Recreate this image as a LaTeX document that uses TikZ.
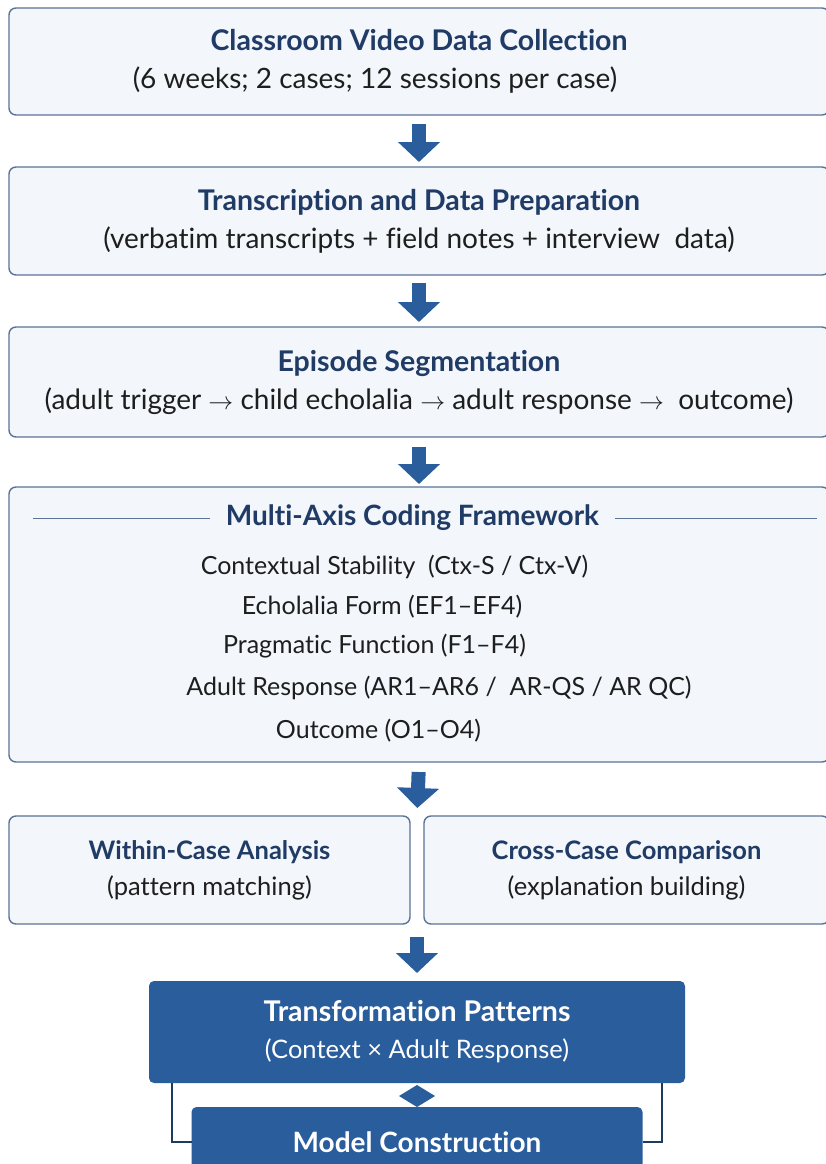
\documentclass[tikz,border=0pt]{standalone}
\usepackage{fontspec}
\setmainfont{Lato}[Ligatures=NoCommon]
\usetikzlibrary{arrows.meta,positioning,calc,shapes.geometric}

\definecolor{framecol}{HTML}{5A7396}
\definecolor{panelfill}{HTML}{F3F6FA}
\definecolor{headcol}{HTML}{1F3B66}
\definecolor{bodycol}{HTML}{1E1E1E}
\definecolor{flowblue}{HTML}{2A5D9C}
\definecolor{linkcol}{HTML}{1C3A63}

\newcommand{\stagehead}[1]{\textcolor{headcol}{\fontsize{28.5}{38}\selectfont\bfseries #1}}

\begin{document}
\begin{tikzpicture}[x=1pt, y=1pt, node distance=52pt,
  stage/.style={draw=framecol, line width=1.4pt, fill=panelfill, rounded corners=7pt, minimum width=820pt, align=center, text=bodycol, inner sep=0pt, outer sep=0pt, font=\fontsize{28}{38}\selectfont},
  half/.style={stage, minimum height=108pt, font=\fontsize{25.5}{36}\selectfont},
  axis/.style={text=bodycol, inner sep=0pt, font=\fontsize{25}{28}\selectfont},
  result/.style={fill=flowblue, rounded corners=5pt, text=white, align=center, inner sep=0pt, outer sep=0pt, font=\fontsize{25.5}{37}\selectfont},
  joint/.style={diamond, fill=flowblue, minimum width=36pt, minimum height=22pt, inner sep=0pt, outer sep=0pt},
  flow/.style={line width=14pt, draw=flowblue, -{Triangle[length=20pt,width=41pt]}, shorten <=9pt, shorten >=5pt},
  rule/.style={draw=framecol, line width=1pt},
  link/.style={draw=linkcol, line width=2pt}]
\useasboundingbox (0,0) rectangle (826,-1164);
\fill[white] (0,0) rectangle (826,-1164);
\clip (0,0) rectangle (826,-1164);

% linear stages
\node[stage, minimum height=107pt] (collect) at (419,-61.5) {\stagehead{Classroom Video Data Collection}\\(6 weeks; 2 cases; 12 sessions per case)\hspace*{88pt}};
\node[stage, minimum height=108pt, below=of collect] (prep) {\stagehead{Transcription and Data Preparation}\\(verbatim transcripts + field notes + interview~~data)};
\node[stage, minimum height=110pt, below=of prep] (segment) {\stagehead{Episode Segmentation}\\(adult trigger \ensuremath{\rightarrow} child echolalia \ensuremath{\rightarrow} adult response \ensuremath{\rightarrow}~ outcome)};
\node[stage, minimum height=275pt, below=50pt of segment] (coding) {};

% coding framework contents
\node[axis, font=\fontsize{28}{30}\selectfont\bfseries, text=headcol] (codetitle) at ($(coding.north)+(-6.5,-31)$) {Multi-Axis Coding Framework};
\draw[rule] ([xshift=24pt]coding.north west |- codetitle) -- ([xshift=-16pt]codetitle.west);
\draw[rule] ([xshift=16pt]codetitle.east) -- ([xshift=-12pt]coding.north east |- codetitle);
\node[axis] (context) at ($(coding.north)+(-24.5,-80)$) {Contextual Stability~ (Ctx-S / Ctx-V)};
\node[axis] (form) at ($(coding.north)+(-37,-120)$) {Echolalia Form (EF1–EF4)};
\node[axis] (function) at ($(coding.north)+(-44.5,-159)$) {Pragmatic Function (F1–F4)};
\node[axis] (response) at ($(coding.north)+(20,-201)$) {Adult Response (AR1–AR6 / ~AR-QS / AR QC)};
\node[axis] (outcome) at ($(coding.north)+(-40.5,-244)$) {Outcome (O1–O4)};

% analysis split
\node[half, minimum width=401pt, anchor=north west] (within) at ($(coding.south west)+(0,-54)$) {\stagehead{\fontsize{25.5}{36}\selectfont Within-Case Analysis}\\(pattern matching)};
\node[half, minimum width=405pt, anchor=north east] (cross) at ($(coding.south east)+(0,-54)$) {\stagehead{\fontsize{25.5}{36}\selectfont Cross-Case Comparison}\\(explanation building)};
\coordinate (gaptop) at ($(within.north east)!0.5!(cross.north west)$);
\coordinate (gapbot) at ($(within.south east)!0.5!(cross.south west)$);

% results
\node[result, minimum width=536pt, minimum height=102pt, below=57pt of gapbot] (trans) {{\fontsize{28.5}{37}\selectfont\bfseries Transformation Patterns}\\(Context × Adult Response)};
\node[joint, below=2pt of trans] (hinge) {};
\node[result, minimum width=451pt, minimum height=70pt, below=0pt of hinge, font=\fontsize{28}{30}\selectfont\bfseries] (model) {Model Construction};

\draw[flow] (collect) -- (prep);
\draw[flow, shorten <=8pt] (prep) -- (segment);
\draw[flow, shorten <=10pt, shorten >=3pt] (segment) -- (coding);
\draw[flow, shorten <=10pt, shorten >=8pt] (coding.south |- coding.south) -- (gaptop);
\draw[flow, shorten <=13pt, shorten >=8pt] (gapbot) -- (trans);
\draw[link] ([xshift=23pt]trans.south west) |- (model.west);
\draw[link] ([xshift=-23pt]trans.south east) |- (model.east);
\end{tikzpicture}
\end{document}
